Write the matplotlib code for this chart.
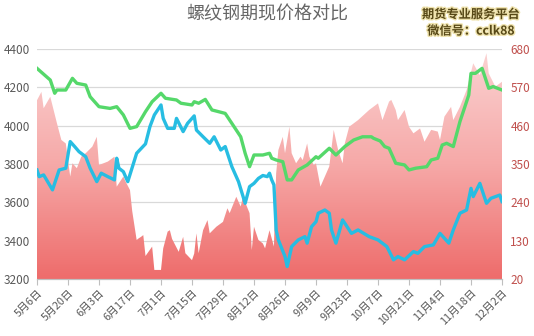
import matplotlib
matplotlib.use("Agg")
import matplotlib.pyplot as plt
import matplotlib.dates as mdates
import matplotlib.patheffects as pe
from matplotlib.colors import LinearSegmentedColormap
import numpy as np
import pandas as pd

plt.rcParams['font.family'] = ['Noto Sans CJK SC', 'DejaVu Sans']

# 现货价格 (左轴)
spot_dates = ['05-06', '05-12', '05-14', '05-15', '05-19', '05-22', '05-24', '05-28', '05-30',
              '06-01', '06-03', '06-08', '06-11', '06-14', '06-17', '06-20', '06-24', '06-27',
              '07-01', '07-03', '07-08', '07-10', '07-15', '07-16', '07-18', '07-21', '07-24',
              '07-27', '07-30', '08-02', '08-06', '08-08', '08-10', '08-12', '08-16', '08-19',
              '08-20', '08-22', '08-25', '08-27', '08-29', '09-01', '09-05', '09-09', '09-10',
              '09-15', '09-18', '09-22', '09-26', '09-30', '10-04', '10-05', '10-08', '10-10',
              '10-12', '10-15', '10-19', '10-21', '10-24', '10-29', '10-31', '11-03', '11-05',
              '11-07', '11-10', '11-13', '11-17', '11-18', '11-20', '11-23', '11-26', '11-28',
              '12-02']
spot = [4299, 4238, 4169, 4186, 4186, 4247, 4221, 4212, 4151,
        4125, 4099, 4090, 4099, 4056, 3986, 3995, 4073, 4125,
        4169, 4143, 4134, 4117, 4108, 4125, 4117, 4137, 4082,
        4073, 4064, 4012, 3942, 3856, 3786, 3847, 3847, 3856,
        3830, 3821, 3812, 3717, 3717, 3769, 3795, 3838, 3830,
        3882, 3847, 3891, 3925, 3942, 3942, 3934, 3920, 3891,
        3882, 3804, 3795, 3769, 3778, 3786, 3821, 3830, 3899,
        3908, 3891, 4021, 4160, 4273, 4273, 4299, 4195, 4204,
        4186]

# 期货价格 (左轴)
fut_dates = ['05-06', '05-07', '05-09', '05-13', '05-16', '05-19', '05-21', '05-23', '05-25',
             '05-28', '05-30', '06-02', '06-04', '06-07', '06-10', '06-11', '06-12', '06-14',
             '06-16', '06-20', '06-24', '06-26', '06-28', '07-01', '07-02', '07-04', '07-07',
             '07-08', '07-11', '07-13', '07-16', '07-17', '07-20', '07-23', '07-25', '07-28',
             '07-30', '08-02', '08-05', '08-08', '08-10', '08-12', '08-14', '08-16', '08-18',
             '08-19', '08-20', '08-21', '08-22', '08-23', '08-26', '08-27', '08-29', '09-01',
             '09-04', '09-05', '09-07', '09-09', '09-10', '09-13', '09-15', '09-16', '09-18',
             '09-21', '09-22', '09-25', '09-28', '10-03', '10-07', '10-11', '10-14', '10-16',
             '10-19', '10-23', '10-25', '10-28', '11-01', '11-04', '11-08', '11-10', '11-13',
             '11-16', '11-18', '11-19', '11-22', '11-25', '11-27', '12-01', '12-02']
futures = [3769, 3734, 3743, 3665, 3769, 3778, 3917, 3891, 3864,
           3838, 3778, 3708, 3752, 3734, 3717, 3830, 3778, 3760,
           3708, 3856, 3905, 3995, 4056, 4108, 4038, 3986, 3986,
           4038, 3969, 4012, 4051, 3977, 3942, 3908, 3942, 3873,
           3891, 3786, 3708, 3595, 3682, 3699, 3725, 3740, 3734,
           3752, 3717, 3691, 3456, 3404, 3317, 3265, 3369, 3404,
           3421, 3387, 3473, 3499, 3543, 3560, 3543, 3456, 3387,
           3508, 3491, 3438, 3456, 3421, 3404, 3369, 3300, 3317,
           3300, 3343, 3334, 3369, 3378, 3438, 3387, 3456, 3543,
           3560, 3673, 3630, 3699, 3595, 3621, 3638, 3604]

# 基差 (右轴)
basis_dates = ['05-06', '05-08', '05-09', '05-12', '05-15', '05-17', '05-19', '05-21', '05-22',
               '05-24', '05-26', '05-28', '05-31', '06-02', '06-03', '06-07', '06-10', '06-11',
               '06-14', '06-15', '06-17', '06-18', '06-20', '06-21', '06-22', '06-23', '06-24',
               '06-27', '06-28', '07-01', '07-02', '07-04', '07-05', '07-06', '07-09', '07-11',
               '07-12', '07-15', '07-16', '07-17', '07-18', '07-20', '07-22', '07-23', '07-26',
               '07-29', '07-31', '08-01', '08-04', '08-06', '08-07', '08-10', '08-11', '08-12',
               '08-14', '08-16', '08-17', '08-19', '08-21', '08-22', '08-23', '08-25', '08-26',
               '08-28', '08-29', '08-31', '09-02', '09-03', '09-05', '09-06', '09-08', '09-09',
               '09-11', '09-13', '09-15', '09-17', '09-19', '09-21', '09-22', '09-24', '09-28',
               '10-03', '10-07', '10-09', '10-12', '10-13', '10-15', '10-16', '10-19', '10-21',
               '10-23', '10-26', '10-28', '10-31', '11-03', '11-04', '11-06', '11-09', '11-10',
               '11-13', '11-16', '11-19', '11-22', '11-25', '11-26', '11-29', '12-02']
basis = [533, 557, 510, 543, 467, 419, 409, 314, 352,
         338, 371, 381, 400, 428, 347, 357, 371, 285,
         314, 300, 275, 215, 132, 137, 141, 146, 86,
         113, 46, 46, 108, 156, 160, 135, 98, 141,
         94, 74, 93, 151, 94, 160, 189, 151, 170,
         184, 223, 209, 256, 228, 256, 209, 103, 170,
         132, 122, 108, 160, 113, 323, 390, 428, 381,
         457, 381, 352, 371, 361, 409, 371, 347, 352,
         285, 314, 343, 448, 390, 352, 409, 457, 476,
         505, 524, 476, 529, 534, 505, 476, 505, 457,
         438, 452, 414, 448, 443, 419, 486, 514, 476,
         514, 562, 639, 605, 668, 610, 572, 586]

left_ticks = [3200, 3400, 3600, 3800, 4000, 4200, 4400]
right_ticks = [20, 130, 240, 350, 460, 570, 680]
tick_dates = ['05-06', '05-20', '06-03', '06-17', '07-01', '07-15', '07-29', '08-12',
              '08-26', '09-09', '09-23', '10-07', '10-21', '11-04', '11-18', '12-02']


def to_dt(days):
    return pd.to_datetime(['2019-' + d for d in days])


spot_x = to_dt(spot_dates)
fut_x = to_dt(fut_dates)
basis_x = to_dt(basis_dates)
tick_x = to_dt(tick_dates)

fig = plt.figure(figsize=(5.34, 3.36), dpi=100)
ax = fig.add_axes([37 / 534, 57 / 336, 465 / 534, 230 / 336])
ax2 = ax.twinx()

x0, x1 = mdates.date2num(tick_x[0]), mdates.date2num(tick_x[-1])

# basis area with vertical gradient
area = ax.fill_between(mdates.date2num(basis_x), 20, basis, color='none', lw=0)
cmap = LinearSegmentedColormap.from_list('basis', ['#ee6c6b', '#f6a9a8', '#fbd3d3'])
grad = np.linspace(0, 1, 256).reshape(-1, 1)
im = ax.imshow(grad, extent=[x0, x1, 20, 680], origin='lower', aspect='auto',
               cmap=cmap, zorder=2)
im.set_clip_path(area.get_paths()[0], transform=ax.transData)
ax.set_xlim(x0, x1)
ax.set_ylim(20, 680)

for v in right_ticks[1:]:
    ax.axhline(v, color='#d9d9d9', lw=0.9, zorder=1)

ax2.plot(spot_x, spot, color='#55d86a', lw=2.4, solid_joinstyle='round', zorder=3)
ax2.plot(fut_x, futures, color='#27bde2', lw=2.4, solid_joinstyle='round', zorder=3)
ax2.set_ylim(3200, 4400)
ax2.set_xlim(x0, x1)

ax.yaxis.tick_right()
ax2.yaxis.tick_left()
ax.set_yticks(right_ticks)
ax2.set_yticks(left_ticks)
ax.tick_params(axis='y', length=0, pad=6, labelsize=8.5, labelcolor='#c0504d')
ax2.tick_params(axis='y', length=0, pad=5, labelsize=8.5, labelcolor='#595959')

ax.set_xticks(mdates.date2num(tick_x))
ax.set_xticklabels([f'{d.month}月{d.day}日' for d in tick_x], rotation=45,
                   ha='right', rotation_mode='anchor', fontsize=7.8, color='#595959')
ax.tick_params(axis='x', length=4, color='#bfbfbf', pad=2)
ax2.tick_params(axis='x', length=0)

for a in (ax, ax2):
    for s in ('left', 'right', 'top'):
        a.spines[s].set_visible(False)
    a.spines['bottom'].set_color('#bfbfbf')

fig.text(0.501, 0.957, '螺纹钢期现价格对比', ha='center', va='center',
         fontsize=13, color='#666666')
fig.text(0.882, 0.932, '期货专业服务平台\n微信号：cclk88', ha='center', va='center',
         fontsize=8.8, fontweight='bold', color='#574816', linespacing=1.35,
         path_effects=[pe.withStroke(linewidth=2, foreground='#efe3ae')])

fig.savefig('out.png', dpi=100)
